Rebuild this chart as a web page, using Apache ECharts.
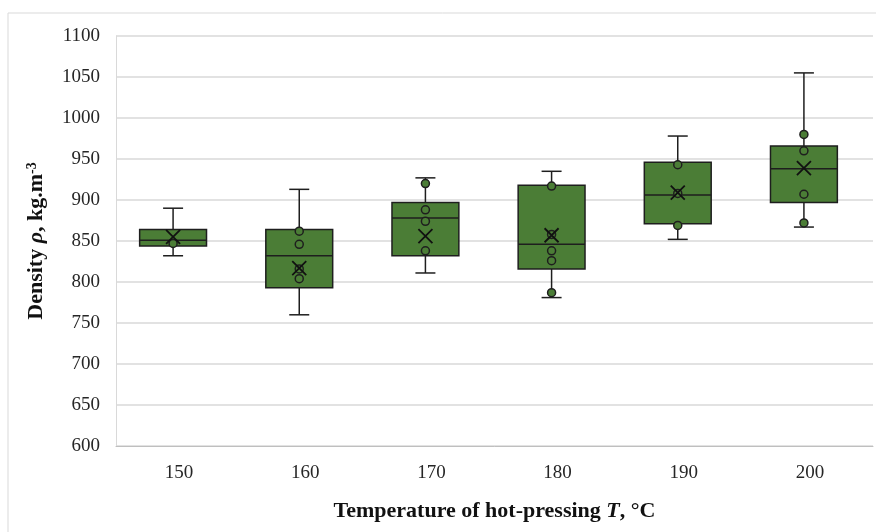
<!DOCTYPE html>
<html>
<head>
<meta charset="utf-8">
<script src="https://cdn.jsdelivr.net/npm/echarts@6/dist/echarts.min.js"></script>
<style>
html, body { margin: 0; padding: 0; background: #fff; }
#density-chart { width: 876px; height: 532px; }
</style>
</head>
<body>
<div id="density-chart"></div>
<script>
var temperatures = ['150', '160', '170', '180', '190', '200'];

// min, Q1, median, Q3, max
var boxMin    = [832, 760, 811, 781, 852, 867];
var boxQ1     = [844, 793, 832, 816, 871, 897];
var boxMedian = [851, 832, 878, 846, 906, 938];
var boxQ3     = [864, 864, 897, 918, 946, 966];
var boxMax    = [890, 913, 927, 935, 978, 1055];

var meanValues = [855, 817, 856, 857, 909, 939];

// inner points per temperature
var points150 = [847];
var points160 = [862, 846, 816, 804];
var points170 = [920, 888, 874, 838];
var points180 = [917, 858, 838, 826, 787];
var points190 = [943, 908, 869];
var points200 = [980, 960, 907, 872];

var yTicks = [600, 650, 700, 750, 800, 850, 900, 950, 1000, 1050, 1100];

var allPoints = [points150, points160, points170, points180, points190, points200];

var boxData = temperatures.map(function (t, i) {
  return [i, boxMin[i], boxQ1[i], boxMedian[i], boxQ3[i], boxMax[i]];
});
var meanData = meanValues.map(function (v, i) { return [i, v]; });
var pointData = [];
allPoints.forEach(function (arr, i) {
  arr.forEach(function (v) { pointData.push([i, v]); });
});

var green = '#4b7d36';
var dark = '#1e1e1e';
var serif = '"Liberation Serif", "Times New Roman", serif';
var shift = -6; // excel draws the boxes a little left of the labels

function renderBox(params, api) {
  var idx = api.value(0);
  var x = api.coord([idx, yTicks[0]])[0] + shift;
  var band = api.size([1, 0])[0];
  var half = band * 0.265;
  var cap = 10;
  var yMin = api.coord([idx, api.value(1)])[1];
  var yQ1 = api.coord([idx, api.value(2)])[1];
  var yMed = api.coord([idx, api.value(3)])[1];
  var yQ3 = api.coord([idx, api.value(4)])[1];
  var yMax = api.coord([idx, api.value(5)])[1];
  var line = { stroke: dark, lineWidth: 1.5 };
  return {
    type: 'group',
    children: [
      { type: 'line', shape: { x1: x, y1: yMax, x2: x, y2: yQ3 }, style: line },
      { type: 'line', shape: { x1: x, y1: yQ1, x2: x, y2: yMin }, style: line },
      { type: 'line', shape: { x1: x - cap, y1: yMax, x2: x + cap, y2: yMax }, style: line },
      { type: 'line', shape: { x1: x - cap, y1: yMin, x2: x + cap, y2: yMin }, style: line },
      { type: 'rect', shape: { x: x - half, y: yQ3, width: half * 2, height: yQ1 - yQ3 },
        style: { fill: green, stroke: dark, lineWidth: 1.5 } },
      { type: 'line', shape: { x1: x - half, y1: yMed, x2: x + half, y2: yMed }, style: line }
    ]
  };
}

var chart = echarts.init(document.getElementById('density-chart'));

var option = {
  backgroundColor: '#fff',
  animation: false,
  graphic: [{
    type: 'rect',
    shape: { x: 8, y: 13, width: 880, height: 530 },
    style: { fill: 'none', stroke: '#d9d9d9', lineWidth: 1 },
    silent: true
  }],
  grid: { left: 116, right: 3, top: 36, bottom: 86 },
  xAxis: {
    type: 'category',
    data: temperatures,
    boundaryGap: true,
    axisLine: { show: true, lineStyle: { color: '#bfbfbf', width: 1 } },
    axisTick: { show: false },
    axisLabel: { color: '#262626', fontFamily: serif, fontSize: 19, margin: 18 },
    name: '{b|Temperature of hot-pressing }{bi|T}{b|, °C}',
    nameLocation: 'middle',
    nameGap: 54,
    nameTextStyle: {
      rich: {
        b: { fontFamily: serif, fontWeight: 'bold', fontSize: 22, color: '#111' },
        bi: { fontFamily: serif, fontWeight: 'bold', fontStyle: 'italic', fontSize: 22, color: '#111' }
      }
    }
  },
  yAxis: {
    type: 'value',
    min: 600,
    max: 1100,
    interval: 50,
    axisLine: { show: true, lineStyle: { color: '#d9d9d9', width: 1 } },
    axisTick: { show: false },
    splitLine: { lineStyle: { color: '#d9d9d9', width: 1.5 } },
    axisLabel: {
      color: '#262626', fontFamily: serif, fontSize: 19, margin: 16,
      formatter: function (v) { return String(v); }
    },
    name: '{b|Density }{bi|ρ}{b|, kg.m}{sup|-3}',
    nameLocation: 'middle',
    nameGap: 68,
    nameTextStyle: {
      rich: {
        b: { fontFamily: serif, fontWeight: 'bold', fontSize: 22, color: '#111' },
        bi: { fontFamily: serif, fontWeight: 'bold', fontStyle: 'italic', fontSize: 22, color: '#111' },
        sup: { fontFamily: serif, fontWeight: 'bold', fontSize: 14, color: '#111', verticalAlign: 'top', padding: [0, 0, 9, 0] }
      }
    }
  },
  series: [
    {
      type: 'custom',
      renderItem: renderBox,
      encode: { x: 0, y: [1, 2, 3, 4, 5] },
      data: boxData,
      z: 2
    },
    {
      type: 'scatter',
      data: pointData,
      symbol: 'circle',
      symbolSize: 8,
      symbolOffset: [shift, 0],
      itemStyle: { color: green, borderColor: dark, borderWidth: 1.5, opacity: 1 },
      z: 3
    },
    {
      type: 'scatter',
      data: meanData,
      symbol: 'path://M0,0L10,10M10,0L0,10',
      symbolSize: 14,
      symbolOffset: [shift, 0],
      itemStyle: { color: 'none', borderColor: '#111', borderWidth: 1.8, opacity: 1 },
      z: 4
    }
  ]
};

chart.setOption(option);
</script>
</body>
</html>
